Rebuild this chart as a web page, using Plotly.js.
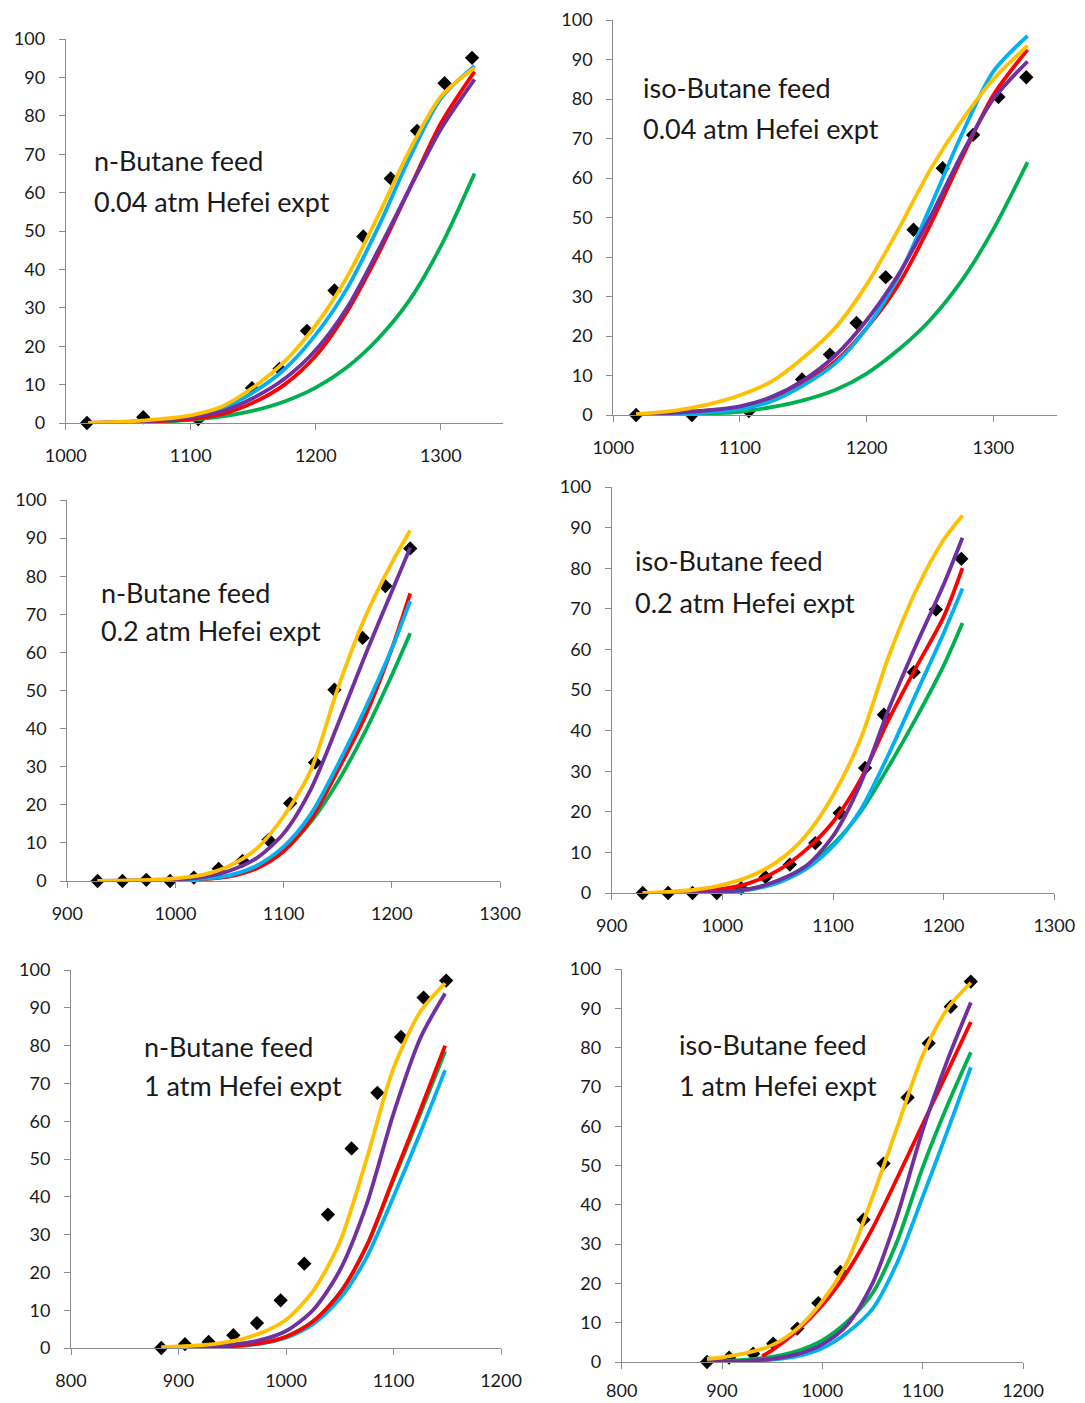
<!DOCTYPE html>
<html>
<head>
<meta charset="utf-8">
<script src="https://cdn.plot.ly/plotly-3.0.1.min.js"></script>
<style>
html,body{margin:0;padding:0;background:#fff;}
#chart{width:1085px;height:1403px;}
</style>
</head>
<body>
<div id="chart"></div>
<script>
// ---------- Panel 1: n-Butane feed, 0.04 atm ----------
const p1_x = [1018, 1050, 1075, 1100, 1125, 1150, 1175, 1200, 1225, 1250, 1275, 1300, 1327];
const p1_yellow = [0, 0.4, 1.0, 2.0, 4.3, 9.3, 16, 25.5, 38, 54, 71, 85, 92.5];
const p1_cyan   = [0, 0.3, 0.8, 1.7, 3.8, 8, 14, 23, 35, 51, 69, 84.5, 93];
const p1_red    = [0, 0.2, 0.5, 1.0, 2.3, 5.3, 10, 17.5, 29, 44, 61, 78, 91.5];
const p1_purple = [0, 0.3, 0.7, 1.5, 3.0, 6.5, 11.5, 19, 30, 45, 61, 76.5, 89.5];
const p1_green  = [0, 0.1, 0.3, 0.8, 1.7, 3.2, 5.6, 9.2, 14.5, 22, 32, 46, 65];
const p1_expX = [1017, 1062, 1106, 1149, 1171, 1193, 1215, 1238, 1260, 1281, 1303, 1325];
const p1_expY = [0, 1.5, 1, 9.1, 14.1, 24, 34.5, 48.6, 63.7, 76.1, 88.5, 95.1];

// ---------- Panel 2: iso-Butane feed, 0.04 atm ----------
const p2_x = [1018, 1050, 1075, 1100, 1125, 1150, 1175, 1200, 1225, 1250, 1275, 1300, 1327];
const p2_yellow = [0.2, 1.2, 2.7, 5, 8.5, 14.5, 22, 33, 47, 62, 74.5, 85, 93.5];
const p2_cyan   = [0, 0.3, 0.7, 1.5, 3.5, 7.5, 13, 22, 35, 52.5, 71, 87, 96];
const p2_red    = [0, 0.5, 1.1, 2, 4.2, 8, 13.5, 22, 33, 48, 65, 81, 92.5];
const p2_purple = [0, 0.6, 1.2, 2.2, 4.6, 8.8, 15, 24, 35.5, 50, 66, 80, 89.5];
const p2_green  = [0, 0.2, 0.4, 0.8, 2, 3.7, 6.3, 10.5, 16.5, 24, 34, 47, 64];
const p2_expX = [1018, 1062, 1107, 1149, 1171, 1192, 1215, 1237, 1260, 1284, 1304, 1326];
const p2_expY = [0, 0, 1, 9, 15.3, 23.3, 34.9, 46.9, 62.5, 70.9, 80.5, 85.5];

// ---------- Panel 3: n-Butane feed, 0.2 atm ----------
const p3_x = [928, 950, 975, 1000, 1025, 1050, 1075, 1100, 1125, 1150, 1175, 1200, 1217];
const p3_yellow = [0, 0.1, 0.3, 0.7, 1.6, 4, 8.5, 17, 29, 50.5, 69, 83.5, 92];
const p3_cyan   = [0, 0, 0.1, 0.2, 0.6, 1.5, 4, 9, 17.5, 30.5, 45, 61, 73.5];
const p3_red    = [0, 0, 0.1, 0.2, 0.5, 1.2, 3.3, 7.8, 16, 29, 43, 61, 75.5];
const p3_purple = [0, 0.1, 0.2, 0.4, 1.0, 2.7, 6, 12.5, 24, 41, 59, 76, 87.5];
const p3_green  = [0, 0, 0.1, 0.2, 0.5, 1.3, 3.5, 8, 15.5, 26, 39, 54, 65];
const p3_expX = [928, 951, 973, 995, 1017, 1040, 1062, 1086, 1106, 1129, 1147, 1173, 1194, 1217];
const p3_expY = [0, 0, 0.3, 0, 0.9, 3.2, 5.3, 10.8, 20.4, 31.1, 50.2, 63.8, 77.4, 87.3];

// ---------- Panel 4: iso-Butane feed, 0.2 atm ----------
const p4_x = [928, 950, 975, 1000, 1025, 1050, 1075, 1100, 1125, 1150, 1175, 1200, 1217];
const p4_yellow = [0, 0.3, 0.8, 2, 4.1, 7.8, 14, 24, 38, 58, 74.5, 87, 93];
const p4_cyan   = [0, 0, 0.1, 0.2, 0.8, 2.5, 5.8, 11.5, 20.5, 34, 49, 64, 75];
const p4_red    = [0, 0.1, 0.4, 1, 2.5, 5.5, 10.5, 17.5, 28, 42.5, 55.5, 68, 80];
const p4_purple = [0, 0, 0.1, 0.3, 1, 3, 6.5, 14, 27, 45, 61, 76, 87.5];
const p4_green  = [0, 0, 0.1, 0.3, 1, 3, 6.5, 12, 20, 31, 43, 56, 66.5];
const p4_expX = [928, 951, 973, 995, 1017, 1039, 1061, 1084, 1106, 1129, 1146, 1173, 1193, 1216];
const p4_expY = [0, 0, 0, 0, 1.2, 3.9, 7.0, 12.3, 19.7, 30.8, 43.9, 54.4, 69.8, 82.3];

// ---------- Panel 5: n-Butane feed, 1 atm ----------
const p5_x = [884, 900, 925, 950, 975, 1000, 1025, 1050, 1075, 1100, 1125, 1148];
const p5_yellow = [0.2, 0.4, 0.8, 1.8, 3.8, 7.5, 15, 28, 50, 74, 89, 96.5];
const p5_cyan   = [0, 0.1, 0.2, 0.4, 1.1, 2.7, 6.3, 13, 24, 40, 57, 73.5];
const p5_red    = [0, 0.1, 0.2, 0.5, 1.2, 3, 7, 14.5, 27, 45, 63, 80];
const p5_purple = [0, 0.2, 0.4, 0.9, 2, 4.5, 10, 20.5, 38, 62, 82, 93.8];
const p5_green  = [0, 0.1, 0.2, 0.5, 1.2, 3, 7, 14.5, 27, 44.5, 62, 78.5];
const p5_expX = [884, 906, 928, 951, 973, 995, 1017, 1039, 1061, 1085, 1107, 1128, 1149];
const p5_expY = [0, 1.0, 1.6, 3.4, 6.6, 12.6, 22.3, 35.3, 52.8, 67.5, 82.3, 92.7, 97.2];

// ---------- Panel 6: iso-Butane feed, 1 atm ----------
const p6_x = [885, 900, 925, 950, 975, 1000, 1025, 1050, 1075, 1100, 1125, 1148];
const p6_yellow = [0.8, 1.2, 2.3, 4.3, 8.5, 15.5, 25.5, 42, 60, 78, 90, 96.5];
const p6_cyan   = [0, 0.1, 0.2, 0.6, 1.5, 3.5, 7.5, 13.5, 25.5, 42, 59, 75];
const p6_redX   = [940, 950, 975, 1000, 1025, 1050, 1075, 1100, 1125, 1148];
const p6_red    = [1.5, 3, 8, 14.5, 23, 34, 47, 60.5, 74, 86.5];
const p6_purple = [0, 0.1, 0.3, 0.8, 2, 4.5, 9.5, 20, 37.5, 59, 77, 91.5];
const p6_green  = [0, 0.2, 0.6, 1.3, 2.8, 5.5, 10.3, 17.5, 31, 49.5, 65.5, 78.8];
const p6_expX = [885, 907, 931, 951, 975, 996, 1018, 1041, 1061, 1085, 1106, 1128, 1148];
const p6_expY = [0, 1.1, 2.1, 4.7, 8.5, 15, 22.9, 36.2, 50.5, 67.3, 81.1, 90.4, 96.8];

// ---------- Panel titles ----------
const labels = [
  ["n-Butane feed", "0.04 atm Hefei expt"],
  ["iso-Butane feed", "0.04 atm Hefei expt"],
  ["n-Butane feed", "0.2 atm Hefei expt"],
  ["iso-Butane feed", "0.2 atm Hefei expt"],
  ["n-Butane feed", "1 atm Hefei expt"],
  ["iso-Butane feed", "1 atm Hefei expt"]
];

const COLORS = {yellow:'#FFC000', cyan:'#00B0F0', red:'#FF0000', purple:'#7030A0', green:'#00B050'};

const W = 1085, H = 1403;
const boxes = [
  {l:65.7, r:503.3, t:39, b:423, xr:[1000,1350], xs:10},
  {l:613.3, r:1056.7, t:20, b:415, xr:[1000,1350], xs:10},
  {l:67.3, r:500, t:500, b:881, xr:[900,1300], xs:10},
  {l:611.7, r:1054.3, t:487, b:893, xr:[900,1300], xs:10},
  {l:71, r:501, t:970, b:1348, xr:[800,1200], xs:10},
  {l:621.7, r:1023, t:969, b:1362, xr:[800,1200], xs:6}
];
const labelPos = [
  [92, 160, 201],
  [641, 87, 128],
  [99, 592, 631],
  [633, 560, 602],
  [142, 1046, 1085],
  [677, 1044, 1085]
];

const panels = [
  {x:p1_x, s:{green:p1_green, red:p1_red, cyan:p1_cyan, purple:p1_purple, yellow:p1_yellow}, ex:p1_expX, ey:p1_expY},
  {x:p2_x, s:{green:p2_green, red:p2_red, cyan:p2_cyan, purple:p2_purple, yellow:p2_yellow}, ex:p2_expX, ey:p2_expY},
  {x:p3_x, s:{green:p3_green, red:p3_red, cyan:p3_cyan, purple:p3_purple, yellow:p3_yellow}, ex:p3_expX, ey:p3_expY},
  {x:p4_x, s:{green:p4_green, cyan:p4_cyan, red:p4_red, purple:p4_purple, yellow:p4_yellow}, ex:p4_expX, ey:p4_expY},
  {x:p5_x, s:{cyan:p5_cyan, green:p5_green, red:p5_red, purple:p5_purple, yellow:p5_yellow}, ex:p5_expX, ey:p5_expY},
  {x:p6_x, s:{cyan:p6_cyan, green:p6_green, red:p6_red, purple:p6_purple, yellow:p6_yellow}, ex:p6_expX, ey:p6_expY, redX:p6_redX}
];

const traces = [];
const FONT = 'Lato, "Open Sans", sans-serif';
const layout = {
  width: W, height: H,
  margin: {l:0, r:0, t:0, b:0},
  paper_bgcolor: '#ffffff', plot_bgcolor: 'rgba(0,0,0,0)',
  showlegend: false,
  font: {family: FONT, color: '#1a1a1a'},
  annotations: []
};

const tickFont = {family: FONT, size: 18, color: '#1a1a1a'};

panels.forEach((p, i) => {
  const n = i + 1;
  const xa = 'x' + (n === 1 ? '' : n);
  const ya = 'y' + (n === 1 ? '' : n);
  const b = boxes[i];
  traces.push({
    type: 'scatter', mode: 'markers', x: p.ex, y: p.ey, xaxis: xa, yaxis: ya,
    marker: {symbol: 'diamond', size: 11, color: '#000000'}, cliponaxis: false, hoverinfo: 'skip'
  });
  Object.keys(p.s).forEach(k => {
    const xs = (k === 'red' && p.redX) ? p.redX : p.x;
    traces.push({
      type: 'scatter', mode: 'lines', x: xs, y: p.s[k], xaxis: xa, yaxis: ya,
      line: {color: COLORS[k], width: 3.8, shape: 'spline', smoothing: 0.8},
      cliponaxis: false, hoverinfo: 'skip'
    });
  });
  const common = {
    showline: true, linecolor: '#8c8c8c', linewidth: 1,
    ticks: 'outside', ticklen: 6, tickcolor: '#8c8c8c', tickwidth: 1,
    showgrid: false, zeroline: false, tickfont: tickFont, fixedrange: true
  };
  layout['xaxis' + (n === 1 ? '' : n)] = Object.assign({}, common, {
    domain: [b.l / W, b.r / W], range: b.xr, dtick: 100, tick0: 0,
    anchor: ya, ticklabelstandoff: b.xs
  });
  layout['yaxis' + (n === 1 ? '' : n)] = Object.assign({}, common, {
    domain: [1 - b.b / H, 1 - b.t / H], range: [0, 100], dtick: 10, tick0: 0,
    anchor: xa, ticklabelstandoff: 10
  });
  const lp = labelPos[i];
  [0, 1].forEach(j => {
    layout.annotations.push({
      xref: 'paper', yref: 'paper', x: lp[0] / W, y: 1 - lp[1 + j] / H,
      xanchor: 'left', yanchor: 'middle', showarrow: false,
      text: labels[i][j],
      font: {family: FONT, size: 27, color: '#1a1a1a'}
    });
  });
});

Plotly.newPlot('chart', traces, layout, {displayModeBar: false, staticPlot: true});
</script>
</body>
</html>
